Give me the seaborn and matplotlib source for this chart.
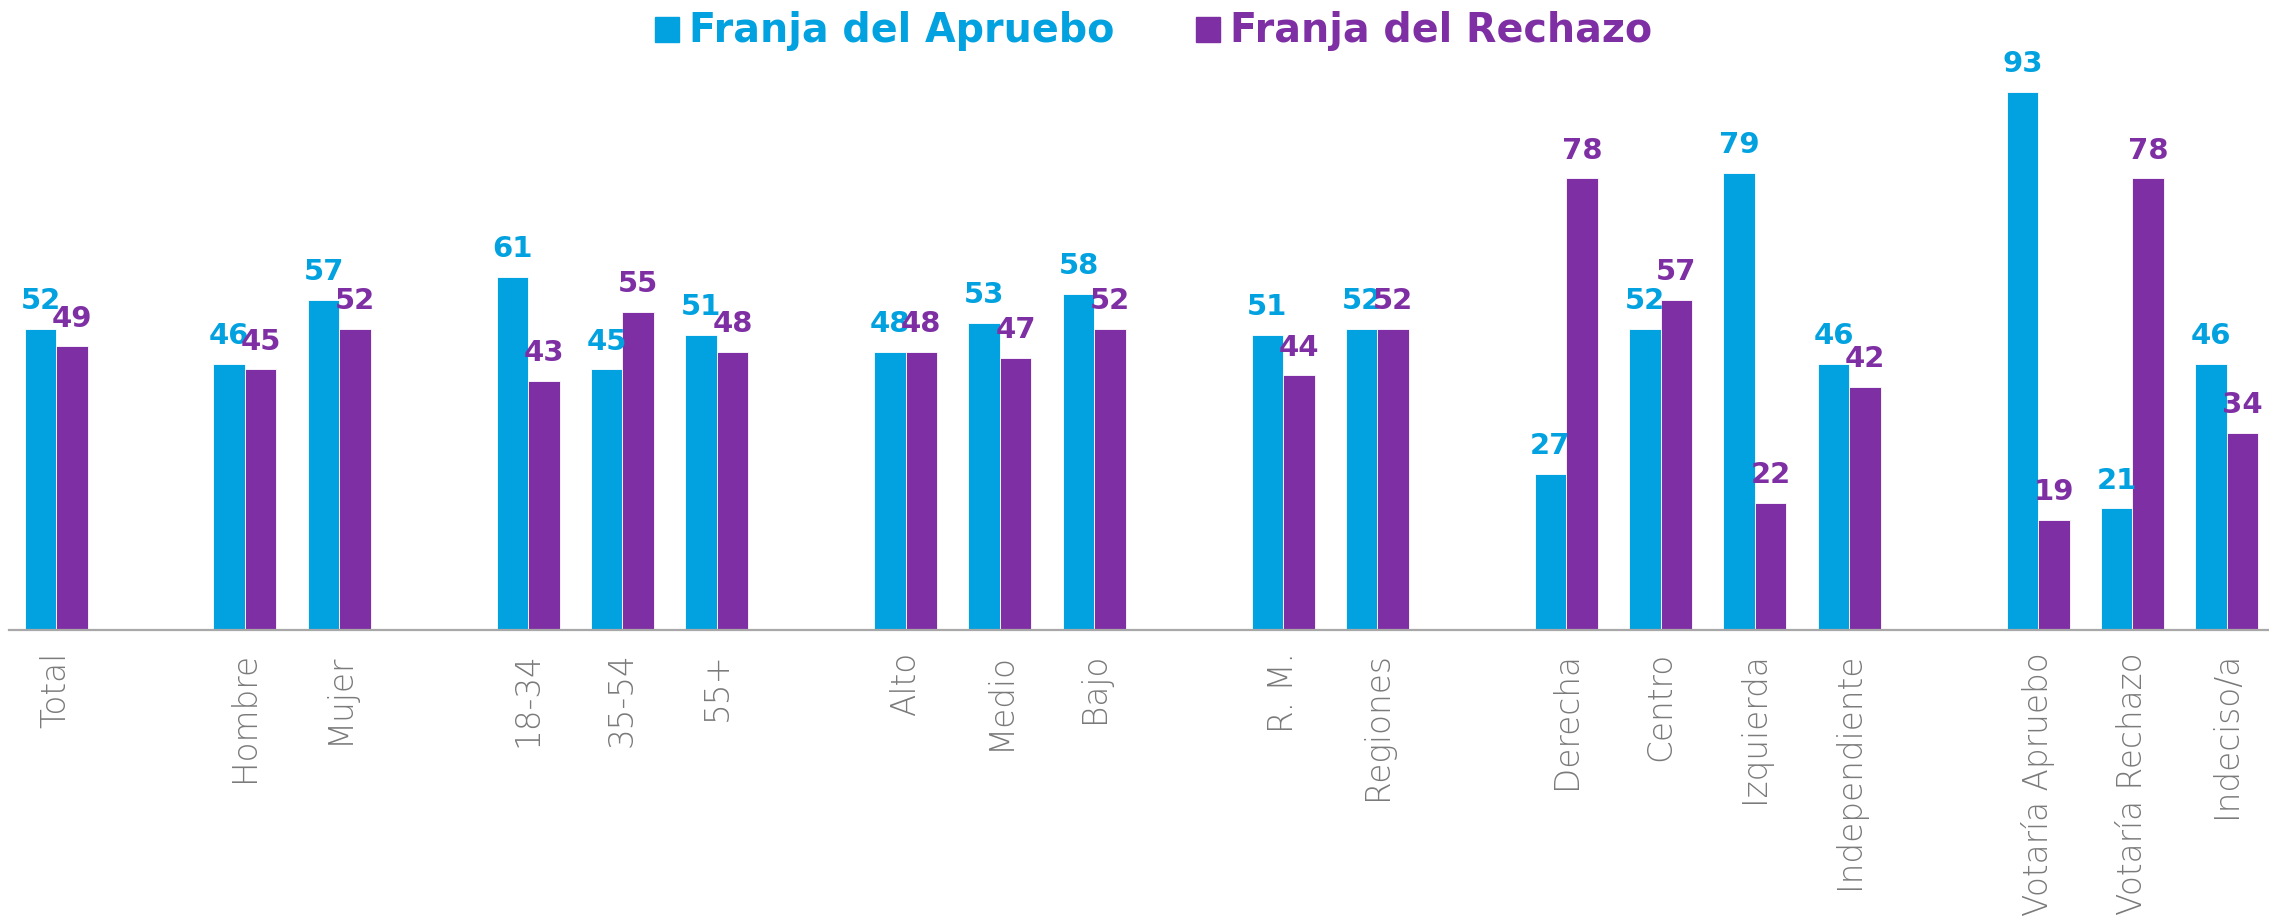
import pandas as pd
import numpy as np
import matplotlib
matplotlib.use("Agg")
import matplotlib.pyplot as plt
import seaborn as sns

# categories, blank slots keep the gaps between groups
categories = ["Total", " 1", "Hombre", "Mujer", " 2", "18-34", "35-54", "55+", " 3",
              "Alto", "Medio", "Bajo", " 4", "R. M.", "Regiones", " 5",
              "Derecha", "Centro", "Izquierda", "Independiente", " 6",
              "Votaría Apruebo", "Votaría Rechazo", "Indeciso/a"]
groups = [c for c in categories if not c.startswith(" ")]
apruebo = [52, 46, 57, 61, 45, 51, 48, 53, 58, 51, 52, 27, 52, 79, 46, 93, 21, 46]
rechazo = [49, 45, 52, 43, 55, 48, 48, 47, 52, 44, 52, 78, 57, 22, 42, 19, 78, 34]
series = ["Franja del Apruebo", "Franja del Rechazo"]

blue = "#02A1DF"
purple = "#7F2FA4"
gray_txt = "#7A7A7A"
gray_ax = "#A8A8A8"

df = pd.DataFrame({
    "grupo": groups * 2,
    "serie": [series[0]] * len(groups) + [series[1]] * len(groups),
    "valor": apruebo + rechazo,
})

sns.set_style("white")
plt.rcParams["font.family"] = ["DejaVu Sans"]

fig = plt.figure(figsize=(22.69, 9.16), dpi=100)
ax = fig.add_axes([9 / 2269, 286 / 916, 2265 / 2269, 579 / 916])

sns.barplot(data=df, x="grupo", y="valor", hue="serie", order=categories,
            hue_order=series, palette=[blue, purple], width=0.667, gap=0,
            edgecolor="white", linewidth=0.6, saturation=1, legend=False, ax=ax)

ax.set_xlim(-0.5, len(categories) - 0.5)
ax.set_ylim(0, 100)
ax.set_xlabel("")
ax.set_ylabel("")
ax.set_yticks([])
for s in ["top", "right", "left"]:
    ax.spines[s].set_visible(False)
ax.spines["bottom"].set_color(gray_ax)
ax.spines["bottom"].set_linewidth(1.6)

# labels at slot centres, tick marks at slot boundaries
ax.set_xticks(range(len(categories)))
ax.set_xticklabels([c if not c.startswith(" ") else "" for c in categories],
                   rotation=90, color=gray_txt, fontsize=23.5, fontweight="light",
                   va="top", ha="center")
ax.tick_params(axis="x", which="major", length=0, pad=16)
ax.set_xticks(np.arange(-0.5, len(categories) - 0.5, 1), minor=True)
ax.tick_params(axis="x", which="minor", length=8, width=1.5, color=gray_ax, direction="out")

# value labels above each bar
for cont, vals, col in zip(ax.containers, [apruebo, rechazo], [blue, purple]):
    for bar, v in zip(cont, vals):
        ax.text(bar.get_x() + bar.get_width() / 2, v + 3.4, f"{v}", color=col,
                fontsize=21, fontweight="bold", ha="center", va="baseline", clip_on=False)

# legend on top
lx = [655 / 2269, 1196 / 2269]
for x0, name, col in zip(lx, series, [blue, purple]):
    fig.patches.append(plt.Rectangle((x0, (916 - 42) / 916), 24 / 2269, 25 / 916,
                                     transform=fig.transFigure, color=col))
    fig.text(x0 + 34 / 2269, (916 - 42) / 916, name, color=col, fontsize=28.5,
             fontweight="bold", ha="left", va="baseline")

fig.savefig("out.png", dpi=100)
